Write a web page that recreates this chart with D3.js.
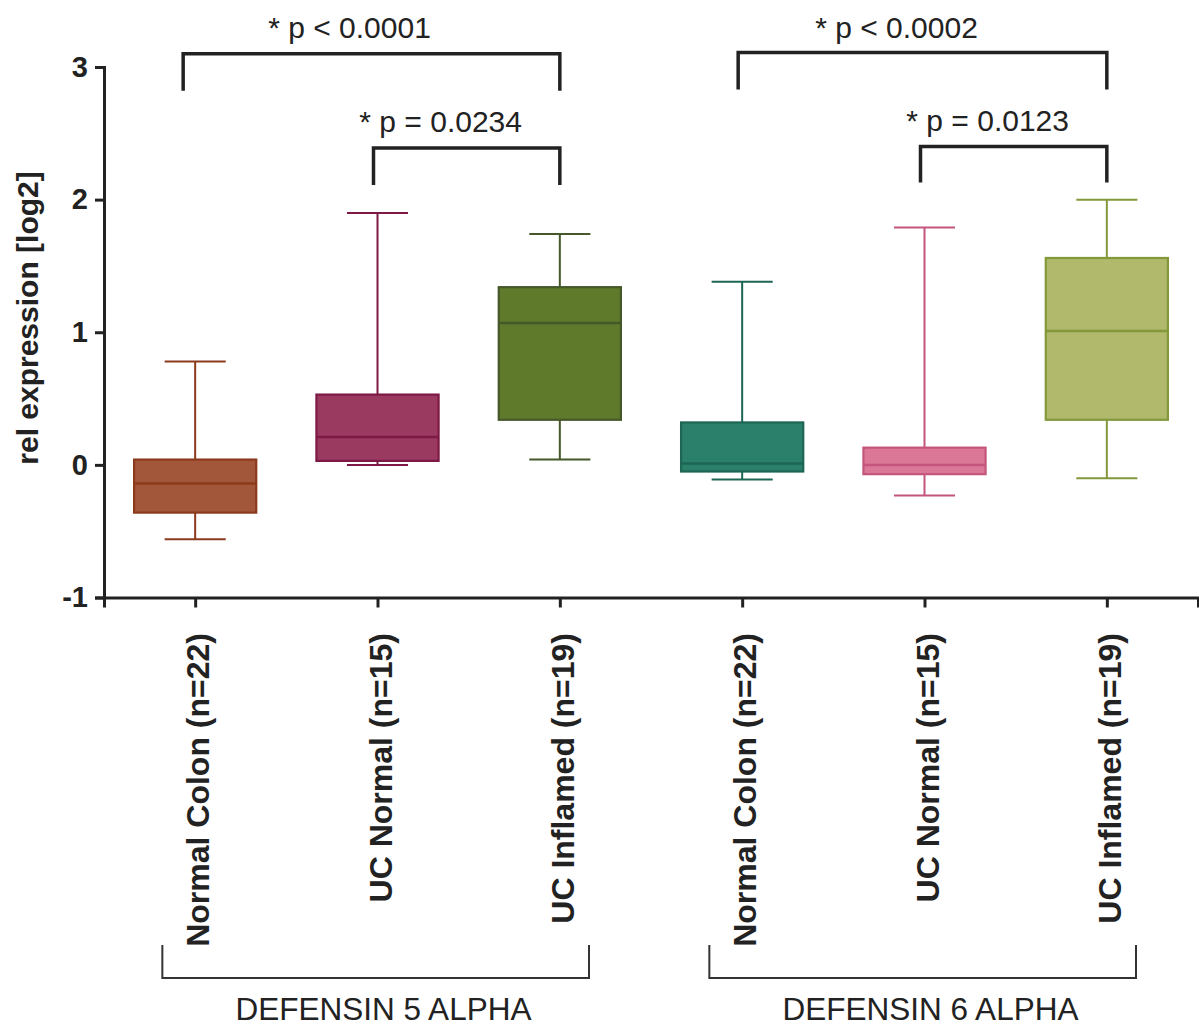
<!DOCTYPE html>
<html>
<head>
<meta charset="utf-8">
<script src="https://cdn.jsdelivr.net/npm/d3@7"></script>
<style>
  body { margin: 0; background: #fff; }
  text { font-family: "Liberation Sans", Arial, sans-serif; fill: #222; }
</style>
</head>
<body>
<svg id="chart" width="1199" height="1028"></svg>
<script>
// categories (two genes, three tissue groups each)
var keys = ["d5-nc", "d5-ucn", "d5-uci", "d6-nc", "d6-ucn", "d6-uci"];
var labels = ["Normal Colon (n=22)", "UC Normal (n=15)", "UC Inflamed (n=19)",
              "Normal Colon (n=22)", "UC Normal (n=15)", "UC Inflamed (n=19)"];

// box plot values
var whiskerLow  = [-0.56, 0.00, 0.04, -0.11, -0.23, -0.10];
var q1          = [-0.36, 0.03, 0.34, -0.05, -0.07, 0.34];
var median      = [-0.14, 0.21, 1.07, 0.01, 0.00, 1.01];
var q3          = [0.04, 0.53, 1.34, 0.32, 0.13, 1.56];
var whiskerHigh = [0.78, 1.90, 1.74, 1.38, 1.79, 2.00];

var fills   = ["#a3573a", "#9b3a60", "#5f7a2b", "#2a806a", "#db7898", "#b0b96c"];
var strokes = ["#8c3a1c", "#7c1a45", "#45582a", "#1d6654", "#c4557c", "#82983a"];

var yTicks = [-1, 0, 1, 2, 3];

// significance brackets: from, to, top, leg bottom, label, label baseline
var sigFrom   = [0, 1, 3, 4];
var sigTo     = [2, 2, 5, 5];
var sigTop    = [3.10, 2.39, 3.11, 2.40];
var sigBottom = [2.82, 2.11, 2.83, 2.13];
var sigText   = ["* p < 0.0001", "* p = 0.0234", "* p < 0.0002", "* p = 0.0123"];
var sigTextY  = [3.22, 2.51, 3.22, 2.52];

// gene groups below the axis
var groupNames = ["DEFENSIN 5 ALPHA", "DEFENSIN 6 ALPHA"];
var groupFrom  = [0, 3];
var groupTo    = [2, 5];

var svg = d3.select("#chart");

var x = d3.scalePoint().domain(keys).range([104, 1198]).padding(0.5);
var y = d3.scaleLinear().domain([-1, 3]).range([597.5, 67]);
var step = x.step();
var boxW = step * 0.67;
var capW = boxW / 2;

// y axis
var yAxis = svg.append("g")
  .attr("transform", "translate(104,0)")
  .call(d3.axisLeft(y).tickValues(yTicks).tickSize(9).tickPadding(7).tickFormat(function(d){ return String(d); }));
yAxis.selectAll("text").style("font-size", "29px").style("font-weight", "bold").attr("fill", "#222");

// x axis
var xAxis = svg.append("g")
  .attr("transform", "translate(0,597.5)")
  .call(d3.axisBottom(x).tickSize(10).tickFormat(""));

svg.selectAll(".domain").attr("stroke", "#222").attr("stroke-width", 3);
svg.selectAll(".tick line").attr("stroke", "#222").attr("stroke-width", 3);

// x labels, rotated
svg.append("g").selectAll("text")
  .data(keys)
  .enter()
  .append("text")
    .attr("transform", function(d){ return "translate(" + (x(d) + 14) + ",633) rotate(-90)"; })
    .attr("text-anchor", "end")
    .style("font-size", "32px")
    .style("font-weight", "bold")
    .text(function(d, i){ return labels[i]; });

// y title
svg.append("text")
  .attr("transform", "translate(38,318) rotate(-90)")
  .attr("text-anchor", "middle")
  .style("font-size", "30px")
  .style("font-weight", "bold")
  .text("rel expression [log2]");

// boxes
var boxes = svg.append("g").selectAll("g")
  .data(keys)
  .enter()
  .append("g");

boxes.append("line")
  .attr("x1", function(d){ return x(d); })
  .attr("x2", function(d){ return x(d); })
  .attr("y1", function(d, i){ return y(whiskerHigh[i]); })
  .attr("y2", function(d, i){ return y(whiskerLow[i]); })
  .attr("stroke", function(d, i){ return strokes[i]; })
  .attr("stroke-width", 2);

boxes.append("line")
  .attr("x1", function(d){ return x(d) - capW / 2; })
  .attr("x2", function(d){ return x(d) + capW / 2; })
  .attr("y1", function(d, i){ return y(whiskerHigh[i]); })
  .attr("y2", function(d, i){ return y(whiskerHigh[i]); })
  .attr("stroke", function(d, i){ return strokes[i]; })
  .attr("stroke-width", 2);

boxes.append("line")
  .attr("x1", function(d){ return x(d) - capW / 2; })
  .attr("x2", function(d){ return x(d) + capW / 2; })
  .attr("y1", function(d, i){ return y(whiskerLow[i]); })
  .attr("y2", function(d, i){ return y(whiskerLow[i]); })
  .attr("stroke", function(d, i){ return strokes[i]; })
  .attr("stroke-width", 2);

boxes.append("rect")
  .attr("x", function(d){ return x(d) - boxW / 2; })
  .attr("y", function(d, i){ return y(q3[i]); })
  .attr("width", boxW)
  .attr("height", function(d, i){ return y(q1[i]) - y(q3[i]); })
  .attr("fill", function(d, i){ return fills[i]; })
  .attr("stroke", function(d, i){ return strokes[i]; })
  .attr("stroke-width", 2.2);

boxes.append("line")
  .attr("x1", function(d){ return x(d) - boxW / 2; })
  .attr("x2", function(d){ return x(d) + boxW / 2; })
  .attr("y1", function(d, i){ return y(median[i]); })
  .attr("y2", function(d, i){ return y(median[i]); })
  .attr("stroke", function(d, i){ return strokes[i]; })
  .attr("stroke-width", 2.5);

// significance brackets
var sig = svg.append("g").selectAll("g")
  .data(sigText)
  .enter()
  .append("g");

sig.append("path")
  .attr("d", function(d, i){
    var x1 = x(keys[sigFrom[i]]) - (i == 0 ? 12 : 4), x2 = x(keys[sigTo[i]]);
    return "M" + x1 + "," + y(sigBottom[i]) + "V" + y(sigTop[i]) + "H" + x2 + "V" + y(sigBottom[i]);
  })
  .attr("fill", "none")
  .attr("stroke", "#222")
  .attr("stroke-width", 3.5);

sig.append("text")
  .attr("x", function(d, i){ return (x(keys[sigFrom[i]]) + x(keys[sigTo[i]])) / 2 - 28; })
  .attr("y", function(d, i){ return y(sigTextY[i]); })
  .attr("text-anchor", "middle")
  .style("font-size", "30px")
  .text(function(d){ return d; });

// gene group brackets
var grp = svg.append("g").selectAll("g")
  .data(groupNames)
  .enter()
  .append("g");

grp.append("path")
  .attr("d", function(d, i){
    var x1 = x(keys[groupFrom[i]]) - step * 0.18, x2 = x(keys[groupTo[i]]) + step * 0.16;
    return "M" + x1 + ",945V978H" + x2 + "V945";
  })
  .attr("fill", "none")
  .attr("stroke", "#333")
  .attr("stroke-width", 2);

grp.append("text")
  .attr("x", function(d, i){ return (x(keys[groupFrom[i]]) + x(keys[groupTo[i]])) / 2 + 6; })
  .attr("y", 1020)
  .attr("text-anchor", "middle")
  .style("font-size", "31.5px")
  .text(function(d){ return d; });
</script>
</body>
</html>
